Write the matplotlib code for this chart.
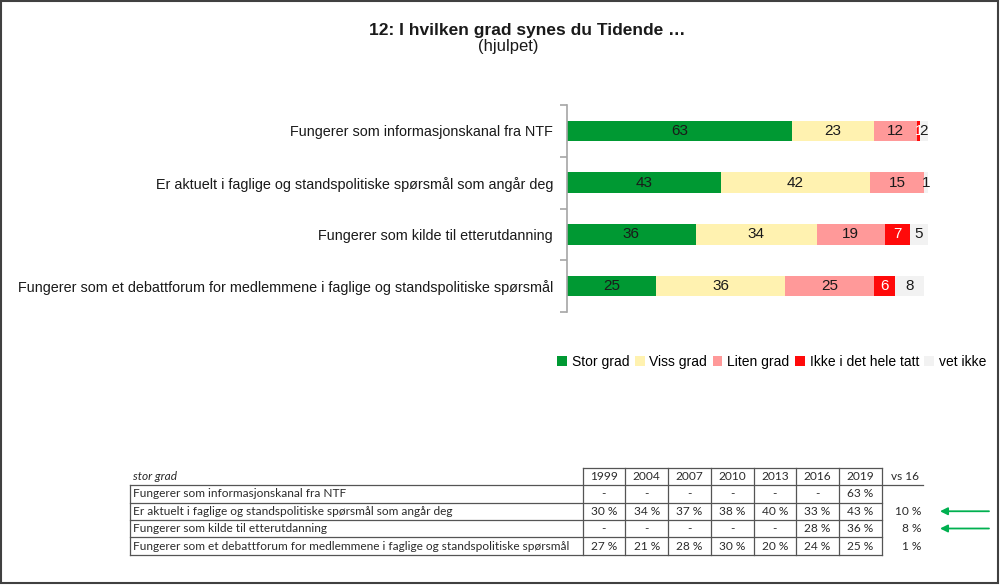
import matplotlib
matplotlib.use("Agg")
import matplotlib.pyplot as plt
from matplotlib.patches import Rectangle
from matplotlib.lines import Line2D
import numpy as np

# ---------------- data ----------------
categories = [
    "Fungerer som informasjonskanal fra NTF",
    "Er aktuelt i faglige og standspolitiske spørsmål som angår deg",
    "Fungerer som kilde til etterutdanning",
    "Fungerer som et debattforum for medlemmene i faglige og standspolitiske spørsmål",
]
series_names = ["Stor grad", "Viss grad", "Liten grad", "Ikke i det hele tatt", "vet ikke"]
stor_grad = [63, 43, 36, 25]
viss_grad = [23, 42, 34, 36]
liten_grad = [12, 15, 19, 25]
ikke_i_det_hele_tatt = [1, 0, 7, 6]
vet_ikke = [2, 1, 5, 8]

table_years = ["1999", "2004", "2007", "2010", "2013", "2016", "2019"]
table_rows = categories
table_values = [
    ["-", "-", "-", "-", "-", "-", "63 %"],
    ["30 %", "34 %", "37 %", "38 %", "40 %", "33 %", "43 %"],
    ["-", "-", "-", "-", "-", "28 %", "36 %"],
    ["27 %", "21 %", "28 %", "30 %", "20 %", "24 %", "25 %"],
]
vs16 = ["", "10 %", "8 %", "1 %"]
arrow_rows = [1, 2]

colors = ["#009933", "#FFF2B0", "#FF9999", "#FF0A0A", "#F2F2F2"]
label_colors = ["#1a1a1a", "#1a1a1a", "#1a1a1a", "white", "#1a1a1a"]

W, H = 1000, 585
fig = plt.figure(figsize=(W / 100, H / 100), dpi=100)
fig.patch.set_facecolor("white")
FONT = "Liberation Sans"

def fx(px):
    return px / W

def fy(py):
    return 1 - py / H

# ---------------- bar chart ----------------
ax_left, ax_right = 567, 567 + 3.57 * 102
ax_top, ax_bot = 105, 312
ax = fig.add_axes([fx(ax_left), fy(ax_bot), (ax_right - ax_left) / W, (ax_bot - ax_top) / H])
ax.set_xlim(0, 102)
ax.set_ylim(3.5, -0.5)
ypos = np.arange(len(categories))
series = [stor_grad, viss_grad, liten_grad, ikke_i_det_hele_tatt, vet_ikke]
left = np.zeros(len(categories))
for name, vals, col, lc in zip(series_names, series, colors, label_colors):
    vals = np.array(vals, dtype=float)
    ax.barh(ypos, vals, left=left, height=0.4, color=col, label=name, edgecolor="none")
    for y, v, l in zip(ypos, vals, left):
        if v > 0:
            ax.text(l + v / 2, y, f"{int(v)}", ha="center", va="center",
                    fontsize=11, color=lc, family=FONT)
    left += vals

for s in ["top", "right", "bottom"]:
    ax.spines[s].set_visible(False)
ax.spines["left"].set_color("#A6A6A6")
ax.spines["left"].set_linewidth(1.2)
ax.set_xticks([])
ax.set_yticks(ypos)
ax.set_yticklabels(categories, fontsize=10.4, family=FONT, color="#1a1a1a")
ax.tick_params(axis="y", which="major", length=0, pad=10)
ax.set_yticks(np.arange(-0.5, 4.0, 1.0), minor=True)
ax.tick_params(axis="y", which="minor", length=5, color="#A6A6A6", width=1.2)
ax.set_facecolor("none")

# title
fig.text(fx(527), fy(30), "12: I hvilken grad synes du Tidende …", ha="center", va="center",
         fontsize=12.5, fontweight="bold", family=FONT, color="#1a1a1a")
fig.text(fx(508), fy(47), "(hjulpet)", ha="center", va="center",
         fontsize=12, family=FONT, color="#1a1a1a")

# legend
handles, labels = ax.get_legend_handles_labels()
fig.legend(handles, labels, loc="center right", bbox_to_anchor=(fx(992), fy(362)),
           ncol=5, frameon=False, prop={"family": FONT, "size": 10},
           handlelength=0.7, handleheight=0.7, handletextpad=0.35, columnspacing=0.4,
           borderaxespad=0)

# ---------------- table (overlay axes in pixel coords) ----------------
ov = fig.add_axes([0, 0, 1, 1])
ov.set_xlim(0, W)
ov.set_ylim(H, 0)
ov.axis("off")
ov.patch.set_alpha(0)

TF = "Lato"
tcol = "#2b2b2b"
lcol = "#555555"
lw = 0.9
x_label = 130
x0 = 582.5
cw = 42.75
col_x = [x0 + cw * i for i in range(len(table_years) + 1)]
row_y = [468, 485, 502.5, 520, 537, 555]
fs = 8.6

# header
ov.text(133, 477, "stor grad", ha="left", va="center", fontsize=fs, style="italic",
        family=TF, color=tcol)
for i, yr in enumerate(table_years):
    ov.text(col_x[i] + cw / 2, 477, yr, ha="center", va="center", fontsize=fs, family=TF, color=tcol)
ov.text(905, 477, "vs 16", ha="center", va="center", fontsize=fs, family=TF, color=tcol)

# lines
ov.add_line(Line2D([col_x[0], col_x[-1]], [row_y[0], row_y[0]], color=lcol, lw=lw))
ov.add_line(Line2D([x_label, 923], [row_y[1], row_y[1]], color=lcol, lw=lw))
for yy in row_y[2:]:
    ov.add_line(Line2D([x_label, col_x[-1]], [yy, yy], color=lcol, lw=lw))
ov.add_line(Line2D([x_label, x_label], [row_y[1], row_y[-1]], color=lcol, lw=lw))
for xx in col_x:
    ov.add_line(Line2D([xx, xx], [row_y[0], row_y[-1]], color=lcol, lw=lw))

for r, (name, vals) in enumerate(zip(table_rows, table_values)):
    yc = (row_y[r + 1] + row_y[r + 2]) / 2
    ov.text(133, yc, name, ha="left", va="center", fontsize=fs, family=TF, color=tcol)
    for i, v in enumerate(vals):
        ov.text(col_x[i] + cw / 2, yc, v, ha="center", va="center", fontsize=fs, family=TF, color=tcol)
    if vs16[r]:
        ov.text(921, yc, vs16[r], ha="right", va="center", fontsize=fs, family=TF, color=tcol)
    if r in arrow_rows:
        ov.annotate("", xy=(940, yc), xytext=(989, yc),
                    arrowprops=dict(arrowstyle="-|>", color="#00B050", lw=1.3,
                                    mutation_scale=11, shrinkA=0, shrinkB=0))

# outer frame
ov.add_patch(Rectangle((1, 1), W - 3.5, H - 3.5, fill=False, edgecolor="#404040", lw=1.5))

fig.savefig("out.png", dpi=100, facecolor="white")
